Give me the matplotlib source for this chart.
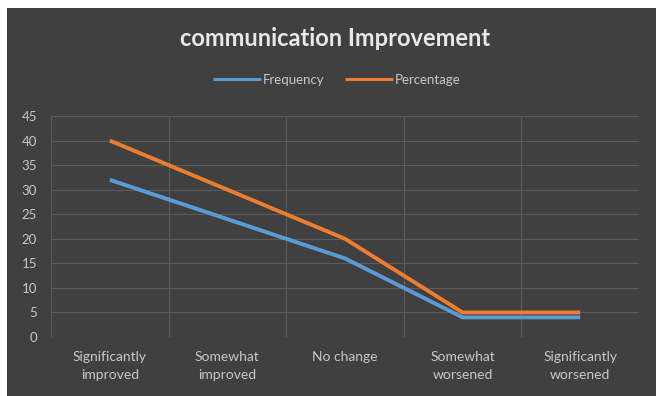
import numpy as np
import matplotlib.pyplot as plt
from matplotlib.patches import Rectangle

plt.rcParams["font.family"] = ["Lato", "DejaVu Sans"]

categories = ["Significantly\nimproved", "Somewhat\nimproved", "No change",
              "Somewhat\nworsened", "Significantly\nworsened"]
frequency = [32, 24, 16, 4, 4]
percentage = [40, 30, 20, 5, 5]

bg = "#404040"
txt = "#c8c8c8"
grid = "#5c5c5c"

fig = plt.figure(figsize=(6.56, 3.96), dpi=100, facecolor="white")
fig.patches.append(Rectangle((7 / 656, 0), 1, 388 / 396, transform=fig.transFigure,
                             facecolor=bg, edgecolor="none", zorder=-10))

ax = fig.add_axes([51 / 656, 59 / 396, 588 / 656, 221 / 396])
ax.set_facecolor(bg)

x = np.arange(len(categories))
ax.plot(x, frequency, color="#5B9BD5", lw=2.8, label="Frequency", solid_capstyle="butt")
ax.plot(x, percentage, color="#ED7D31", lw=2.8, label="Percentage", solid_capstyle="butt")

ax.set_xlim(-0.5, len(categories) - 0.5)
ax.set_ylim(0, 45)
ax.set_yticks(range(0, 46, 5))
ax.set_xticks(x)
ax.set_xticklabels(categories, color=txt, fontsize=10, linespacing=1.6)
ax.tick_params(axis="y", colors=txt, labelsize=9.5, length=0, pad=10)
ax.tick_params(axis="x", length=0, pad=10)

# horizontal gridlines and category separators
ax.grid(axis="y", color=grid, lw=0.8)
for b in np.arange(-0.5, len(categories), 1):
    ax.axvline(b, color=grid, lw=0.8, zorder=0)
for s in ax.spines.values():
    s.set_visible(False)
ax.set_axisbelow(True)

fig.text(335 / 656, 1 - 38 / 396, "communication Improvement", ha="center", va="center",
         color="#e8e8e8", fontsize=17, fontweight="bold")
leg = fig.legend(loc="center", bbox_to_anchor=(337 / 656, 1 - 80 / 396), ncol=2, frameon=False,
                 fontsize=9.5, labelcolor=txt, handlelength=3.6, handletextpad=0.15,
                 columnspacing=1.6)
for h in leg.get_lines():
    h.set_linewidth(2.2)

fig.savefig("out.png", dpi=100, facecolor=fig.get_facecolor())
